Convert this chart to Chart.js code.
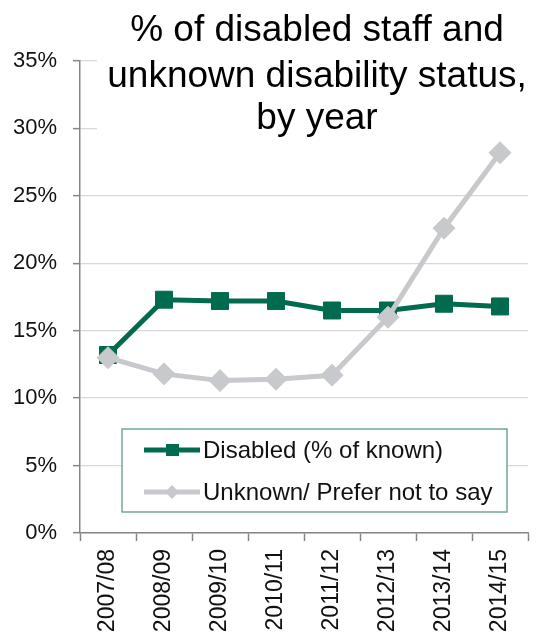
<!DOCTYPE html>
<html>
<head>
<meta charset="utf-8">
<script src="https://cdn.jsdelivr.net/npm/chart.js"></script>
<style>
  html, body { margin: 0; padding: 0; background: #fff; }
  #wrap { width: 541px; height: 635px; position: relative; }
</style>
</head>
<body>
<div id="wrap"><canvas id="myChart"></canvas></div>
<script>
// years on the x axis
const years = ['2007/08', '2008/09', '2009/10', '2010/11', '2011/12', '2012/13', '2013/14', '2014/15']
// % of staff, per year
const disabled = [13.2, 17.3, 17.2, 17.2, 16.5, 16.5, 17.0, 16.8]
const unknown = [13.0, 11.8, 11.3, 11.4, 11.7, 16.0, 22.6, 28.2]
const seriesNames = ['Disabled (% of known)', 'Unknown/ Prefer not to say']
const titleLines = ['% of disabled staff and', 'unknown disability status,', 'by year']

const green = '#006b4f'
const grey = '#c8c9cd'
const axisGrey = '#868686'
const fontFamily = '"Liberation Sans", Arial, sans-serif'

// title sits inside the plot on a white box, like the spreadsheet original
const titlePlugin = {
    id: 'boxTitle',
    beforeDatasetsDraw(chart) {
        const ctx = chart.ctx
        ctx.save()
        ctx.fillStyle = '#fff'
        ctx.fillRect(97, 0, 439, 138)
        ctx.fillStyle = '#000'
        ctx.font = '37px ' + fontFamily
        ctx.textAlign = 'center'
        ctx.textBaseline = 'alphabetic'
        const baselines = [41, 87, 129]
        titleLines.forEach((line, i) => ctx.fillText(line, 317, baselines[i]))
        ctx.restore()
    }
}

// boxed legend inside the chart area
const legendPlugin = {
    id: 'boxLegend',
    afterDatasetsDraw(chart) {
        const ctx = chart.ctx
        ctx.save()
        ctx.fillStyle = '#fff'
        ctx.fillRect(122, 429, 385, 83)
        ctx.strokeStyle = '#6fa99a'
        ctx.lineWidth = 1.5
        ctx.strokeRect(122, 429, 385, 83)
        const rows = [450, 492]
        chart.data.datasets.forEach((ds, i) => {
            const y = rows[i]
            ctx.strokeStyle = ds.borderColor
            ctx.lineWidth = 5
            ctx.beginPath()
            ctx.moveTo(144, y)
            ctx.lineTo(200, y)
            ctx.stroke()
            ctx.fillStyle = ds.backgroundColor
            if (ds.pointStyle === 'rect') {
                ctx.fillRect(166, y - 6, 13, 12)
            } else {
                ctx.beginPath()
                ctx.moveTo(172, y - 7)
                ctx.lineTo(179, y)
                ctx.lineTo(172, y + 7)
                ctx.lineTo(165, y)
                ctx.closePath()
                ctx.fill()
            }
            ctx.fillStyle = '#111'
            ctx.font = '24px ' + fontFamily
            ctx.textAlign = 'left'
            ctx.textBaseline = 'middle'
            ctx.fillText(ds.label, 203, y + 1)
        })
        ctx.restore()
    }
}

let ctx = document.getElementById('myChart').getContext('2d')

let chartData = {
    labels: years,
    datasets: [
        {
            label: seriesNames[0],
            data: disabled,
            borderColor: green,
            backgroundColor: green,
            borderWidth: 5,
            pointStyle: 'rect',
            pointRadius: 12,
            pointBorderWidth: 1,
            tension: 0,
            order: 2
        },
        {
            label: seriesNames[1],
            data: unknown,
            borderColor: grey,
            backgroundColor: grey,
            borderWidth: 5,
            pointStyle: 'rectRot',
            pointRadius: 11,
            pointBorderWidth: 1,
            tension: 0,
            order: 1
        }
    ]
}

let myChart = new Chart(ctx, {
    type: 'line',
    data: chartData,
    plugins: [titlePlugin, legendPlugin],
    options: {
        responsive: true,
        maintainAspectRatio: false,
        animation: false,
        layout: { padding: { top: 61, right: 1, left: 0, bottom: 0 } },
        plugins: {
            legend: { display: false },
            title: { display: false },
            tooltip: { enabled: false }
        },
        scales: {
            x: {
                type: 'category',
                offset: true,
                afterFit: (scale) => { scale.height = 102 },
                grid: {
                    offset: true,
                    drawOnChartArea: false,
                    drawTicks: true,
                    tickLength: 8,
                    tickColor: axisGrey,
                    tickWidth: 1.5
                },
                border: { display: true, color: axisGrey, width: 1.5 },
                ticks: {
                    minRotation: 90,
                    maxRotation: 90,
                    autoSkip: false,
                    padding: 8,
                    color: '#111',
                    font: { family: fontFamily, size: 23 }
                }
            },
            y: {
                min: 0,
                max: 35,
                afterFit: (scale) => { scale.width = 80 },
                grid: {
                    color: '#d9d9d9',
                    lineWidth: 1.3,
                    drawTicks: true,
                    tickLength: 7,
                    tickColor: axisGrey,
                    tickWidth: 1.5
                },
                border: { display: true, color: axisGrey, width: 1.5 },
                ticks: {
                    stepSize: 5,
                    padding: 16,
                    color: '#111',
                    font: { family: fontFamily, size: 22 },
                    callback: (v) => v + '%'
                }
            }
        }
    }
})
</script>
</body>
</html>
